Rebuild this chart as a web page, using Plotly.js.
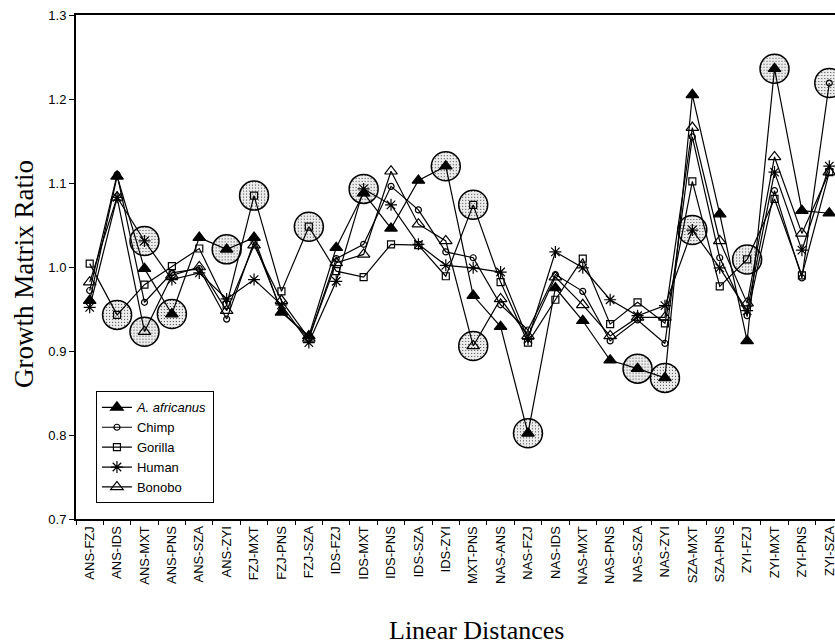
<!DOCTYPE html>
<html>
<head>
<meta charset="utf-8">
<script src="https://cdn.plot.ly/plotly-3.0.1.min.js"></script>
<style>
  html, body { margin: 0; padding: 0; width: 835px; height: 644px; overflow: hidden; background: #fff; }
  #chart { width: 870px; height: 644px; }
</style>
</head>
<body>
<div id="chart"></div>
<script>
const categories = ["ANS-FZJ","ANS-IDS","ANS-MXT","ANS-PNS","ANS-SZA","ANS-ZYI","FZJ-MXT","FZJ-PNS","FZJ-SZA","IDS-FZJ","IDS-MXT","IDS-PNS","IDS-SZA","IDS-ZYI","MXT-PNS","NAS-ANS","NAS-FZJ","NAS-IDS","NAS-MXT","NAS-PNS","NAS-SZA","NAS-ZYI","SZA-MXT","SZA-PNS","ZYI-FZJ","ZYI-MXT","ZYI-PNS","ZYI-SZA"];

const africanus = [0.960,1.108,0.998,0.944,1.035,1.021,1.035,0.946,0.918,1.023,1.088,1.046,1.103,1.120,0.966,0.929,0.802,0.975,0.936,0.889,0.879,0.868,1.205,1.063,0.912,1.236,1.067,1.064];
const chimp     = [0.972,1.110,0.958,0.993,0.998,0.938,1.030,0.948,0.915,1.010,1.027,1.096,1.068,1.018,1.011,0.955,0.925,0.991,0.971,0.912,0.937,0.909,1.155,1.011,0.942,1.091,0.987,1.219];
const gorilla   = [1.004,0.943,0.979,1.001,1.022,0.955,1.085,0.971,1.048,0.995,0.988,1.027,1.026,0.989,1.074,0.982,0.910,0.961,1.010,0.932,0.958,0.933,1.102,0.977,1.009,1.081,0.990,1.113];
const human     = [0.952,1.083,1.031,0.985,0.993,0.962,0.985,0.955,0.910,0.983,1.093,1.074,1.027,1.002,0.999,0.994,0.914,1.018,0.999,0.961,0.942,0.954,1.044,0.999,0.948,1.113,1.020,1.120];
const bonobo    = [0.982,1.083,0.923,0.990,1.000,0.948,1.026,0.960,0.915,1.005,1.015,1.114,1.051,1.031,0.906,0.962,0.918,0.988,0.955,0.918,0.940,0.940,1.166,1.031,0.957,1.131,1.040,1.113];

// highlighted (circled) points per series
const hlAfricanus = ["ANS-PNS","ANS-ZYI","IDS-ZYI","NAS-FZJ","NAS-SZA","NAS-ZYI","ZYI-MXT"];
const hlChimp     = ["ZYI-SZA"];
const hlGorilla   = ["ANS-IDS","FZJ-MXT","FZJ-SZA","MXT-PNS","ZYI-FZJ"];
const hlHuman     = ["ANS-MXT","IDS-MXT","SZA-MXT"];
const hlBonobo    = ["ANS-MXT","MXT-PNS"];

const hx = [], hy = [];
[[hlAfricanus, africanus],[hlChimp, chimp],[hlGorilla, gorilla],[hlHuman, human],[hlBonobo, bonobo]].forEach(([list, vals]) => {
  list.forEach(c => { hx.push(c); hy.push(vals[categories.indexOf(c)]); });
});

const highlight = {
  x: hx, y: hy, type: 'scatter', mode: 'markers', showlegend: false, hoverinfo: 'skip',
  marker: { symbol: 'circle', size: 29, color: '#d6d6d6', line: { color: '#000', width: 1.5 } }
};

function series(name, vals, symbol, size, fill) {
  return {
    x: categories, y: vals, name: name, type: 'scatter', mode: 'lines+markers',
    line: { color: '#000', width: 1.2 },
    marker: { symbol: symbol, size: size, color: fill, line: { color: '#000', width: 1.2 } }
  };
}

const data = [
  highlight,
  series('<i>A. africanus</i>', africanus, 'triangle-up', 11, '#000'),
  series('Chimp', chimp, 'circle-open', 6, '#000'),
  series('Gorilla', gorilla, 'square-open', 7, '#000'),
  series('Human', human, 'asterisk-open', 10, '#000'),
  series('Bonobo', bonobo, 'triangle-up-open', 11, '#000')
];

const sans = 'Liberation Sans, Arial, Helvetica, sans-serif';
const serif = 'Liberation Serif, Times New Roman, serif';

const layout = {
  width: 870, height: 644,
  margin: { l: 76, r: 27, t: 14.5, b: 125 },
  paper_bgcolor: '#fff', plot_bgcolor: '#fff',
  showlegend: true,
  legend: {
    x: 0.026, y: 0.031, xanchor: 'left', yanchor: 'bottom',
    bgcolor: '#fff', bordercolor: '#000', borderwidth: 1,
    font: { family: sans, size: 13, color: '#000' },
    itemwidth: 30, tracegroupgap: 0
  },
  xaxis: {
    type: 'category', categoryarray: categories, range: [-0.5, 27.5],
    tickson: 'boundaries', ticks: 'outside', ticklen: 4, tickwidth: 1, tickcolor: '#000',
    tickangle: -90, tickfont: { family: sans, size: 13, color: '#000' },
    showline: true, linecolor: '#000', linewidth: 2, mirror: true,
    showgrid: false, zeroline: false, fixedrange: true
  },
  yaxis: {
    range: [0.7, 1.3], dtick: 0.1, tick0: 0.7, tickformat: '.1f',
    ticks: 'outside', ticklen: 5, tickwidth: 1, tickcolor: '#000',
    tickfont: { family: sans, size: 13, color: '#000' },
    showline: true, linecolor: '#000', linewidth: 2, mirror: true,
    showgrid: false, zeroline: false, fixedrange: true
  },
  annotations: [
    { text: 'Growth Matrix Ratio', xref: 'paper', yref: 'paper', x: -0.068, y: 0.486,
      xanchor: 'center', yanchor: 'middle', textangle: -90, showarrow: false,
      font: { family: serif, size: 27, color: '#000' } },
    { text: 'Linear Distances', xref: 'paper', yref: 'paper', x: 0.522, y: -0.221,
      xanchor: 'center', yanchor: 'middle', showarrow: false,
      font: { family: serif, size: 26, color: '#000' } }
  ]
};

Plotly.newPlot('chart', data, layout, { staticPlot: true, displayModeBar: false }).then(gd => {
  // stippled fill for the highlight circles
  const svg = gd.querySelector('svg.main-svg');
  const ns = 'http://www.w3.org/2000/svg';
  let defs = svg.querySelector('defs');
  if (!defs) { defs = document.createElementNS(ns, 'defs'); svg.insertBefore(defs, svg.firstChild); }
  const pat = document.createElementNS(ns, 'pattern');
  pat.setAttribute('id', 'stipple');
  pat.setAttribute('patternUnits', 'userSpaceOnUse');
  pat.setAttribute('width', '3'); pat.setAttribute('height', '3');
  const bg = document.createElementNS(ns, 'rect');
  bg.setAttribute('width', '3'); bg.setAttribute('height', '3'); bg.setAttribute('fill', '#ececec');
  const dot = document.createElementNS(ns, 'rect');
  dot.setAttribute('x', '1'); dot.setAttribute('y', '1');
  dot.setAttribute('width', '1'); dot.setAttribute('height', '1'); dot.setAttribute('fill', '#444');
  pat.appendChild(bg); pat.appendChild(dot); defs.appendChild(pat);
  const firstTrace = gd.querySelector('.scatterlayer .trace');
  if (firstTrace) firstTrace.querySelectorAll('path.point').forEach(p => { p.style.fill = 'url(#stipple)'; });
});
</script>
</body>
</html>
